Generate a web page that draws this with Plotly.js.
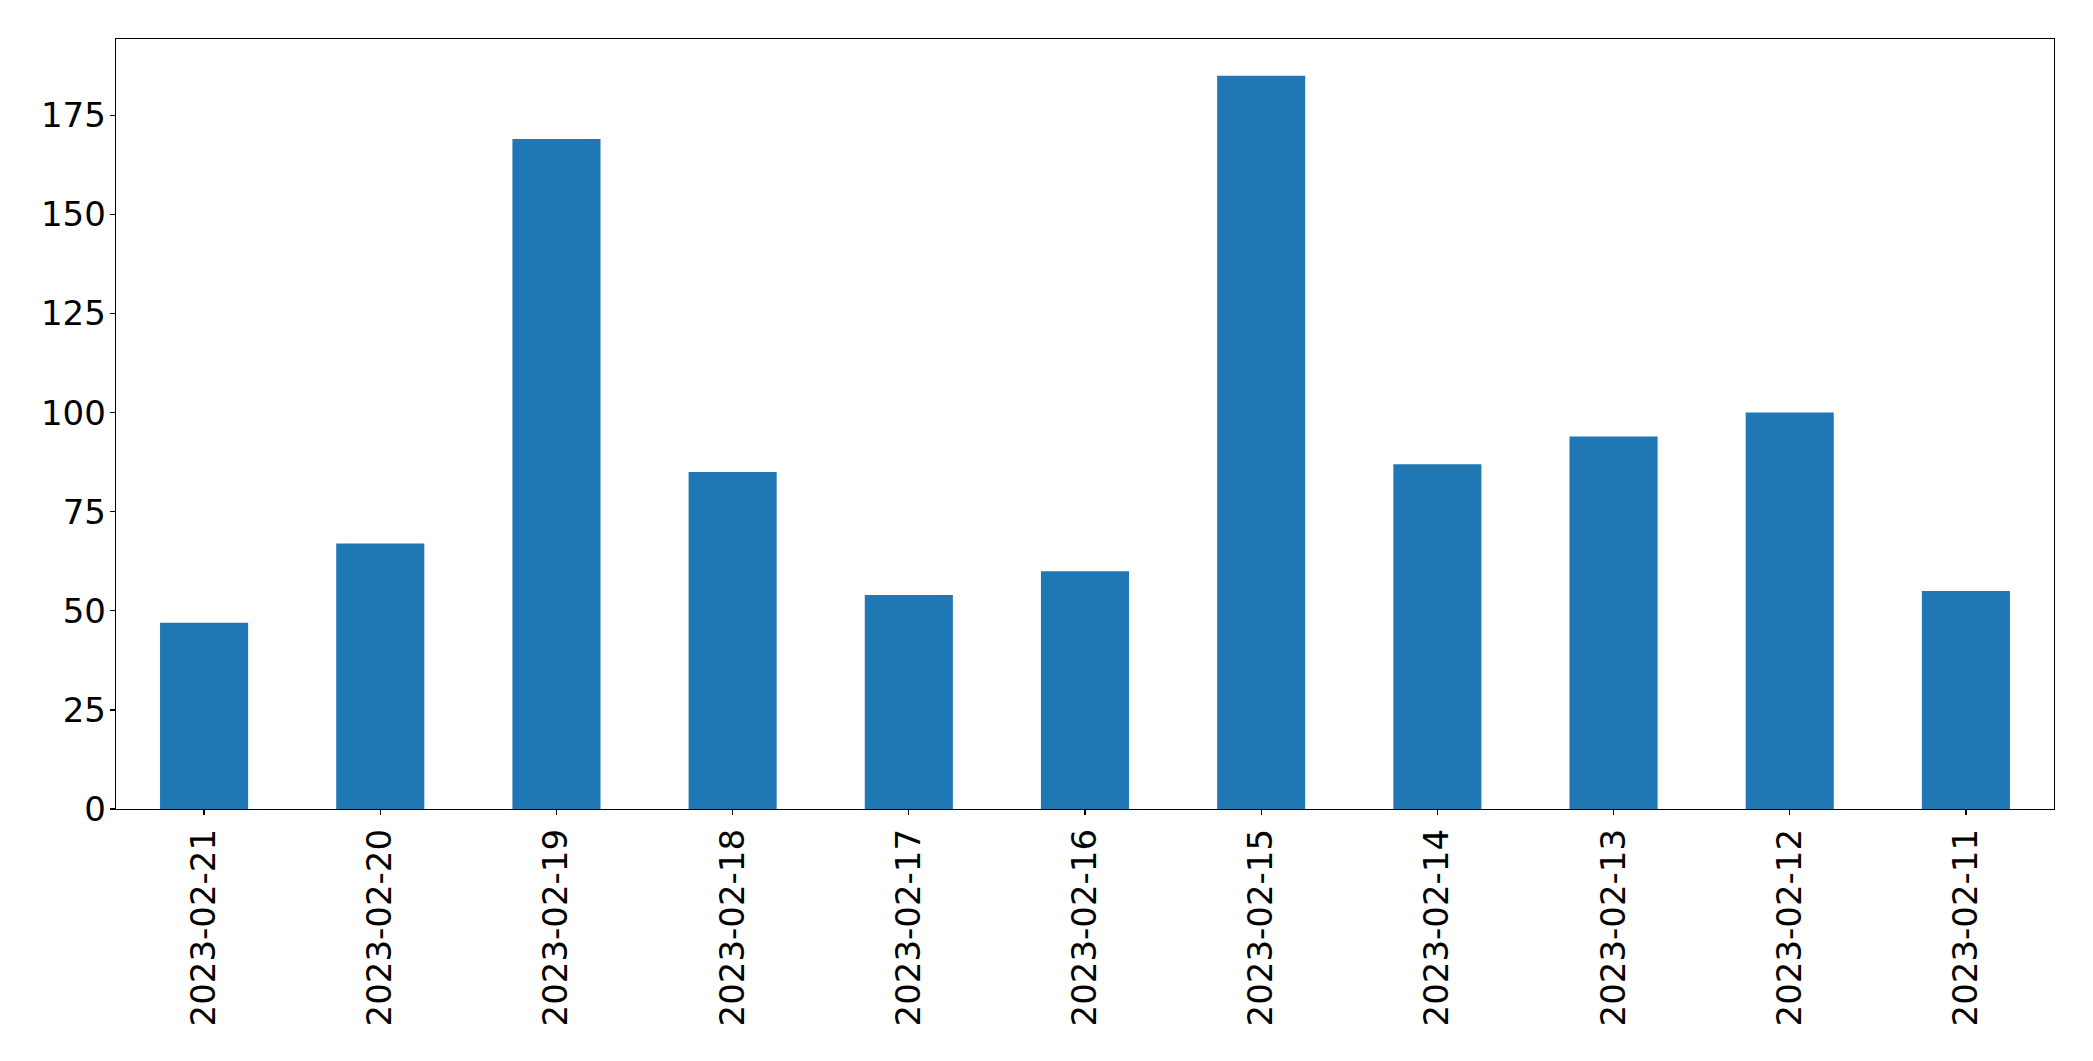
<!DOCTYPE html>
<html>
<head>
<meta charset="utf-8">
<script src="https://cdn.plot.ly/plotly-3.0.1.min.js"></script>
<style>
  html, body { margin: 0; padding: 0; background: #ffffff; }
  #chart { width: 2093px; height: 1061px; }
</style>
</head>
<body>
<div id="chart"></div>
<script>
const categories = ["2023-02-21", "2023-02-20", "2023-02-19", "2023-02-18", "2023-02-17", "2023-02-16", "2023-02-15", "2023-02-14", "2023-02-13", "2023-02-12", "2023-02-11"];
const values = [47, 67, 169, 85, 54, 60, 185, 87, 94, 100, 55];
const yTicks = [0, 25, 50, 75, 100, 125, 150, 175];

const fontFamily = "DejaVu Sans, sans-serif";

const trace = {
  type: "bar",
  x: categories,
  y: values,
  width: 0.5,
  marker: { color: "#1f77b4", line: { width: 0 } },
  hoverinfo: "x+y"
};

const layout = {
  width: 2093,
  height: 1061,
  margin: { l: 116, r: 39, t: 39, b: 252, pad: 0 },
  paper_bgcolor: "#ffffff",
  plot_bgcolor: "#ffffff",
  showlegend: false,
  font: { family: fontFamily, size: 34, color: "#000000" },
  xaxis: {
    type: "category",
    range: [-0.5, categories.length - 0.5],
    tickangle: -90,
    ticks: "outside",
    ticklen: 5,
    tickwidth: 1.3,
    tickcolor: "#000000",
    showgrid: false,
    zeroline: false,
    showline: true,
    linecolor: "#000000",
    linewidth: 1.3,
    mirror: true,
    tickfont: { family: fontFamily, size: 34, color: "#000000" },
    automargin: false
  },
  yaxis: {
    range: [0, Math.max(...values) * 1.05],
    tickmode: "array",
    tickvals: yTicks,
    ticktext: yTicks.map(String),
    ticks: "outside",
    ticklen: 5,
    tickwidth: 1.3,
    tickcolor: "#000000",
    ticklabelstandoff: -3,
    showgrid: false,
    zeroline: false,
    showline: true,
    linecolor: "#000000",
    linewidth: 1.3,
    mirror: true,
    tickfont: { family: fontFamily, size: 34, color: "#000000" },
    automargin: false
  }
};

Plotly.newPlot("chart", [trace], layout, { displayModeBar: false, staticPlot: true });
</script>
</body>
</html>
